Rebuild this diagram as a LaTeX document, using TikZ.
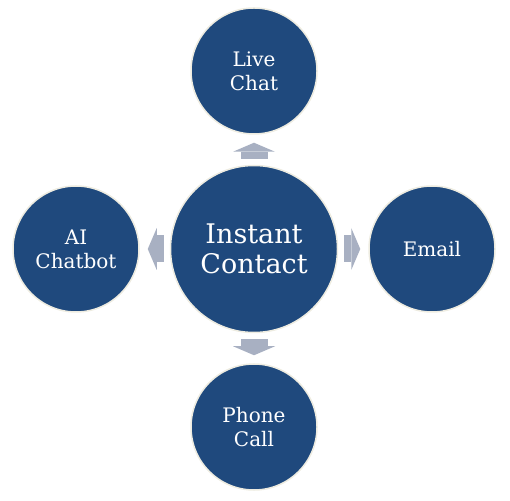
\documentclass[tikz,border=0pt]{standalone}
\usepackage{fontspec}
\usepackage{tikz}
\usetikzlibrary{positioning,arrows.meta}
\newfontfamily\discfont{DejaVu Serif}
\definecolor{disc}{HTML}{1F497D}
\definecolor{rim}{HTML}{EEECE1}
\definecolor{flow}{HTML}{A8B0C2}

\begin{document}
\begin{tikzpicture}[x=1pt,y=1pt,
   disc/.style={circle,fill=disc,draw=rim,line width=1.5pt,
     inner sep=0pt,text=white,align=center},
   channel/.style={disc,minimum size=126pt,font=\discfont\fontsize{20}{24}\selectfont},
   hub/.style={disc,minimum size=167pt,font=\discfont\fontsize{27}{30}\selectfont},
   push/.style={draw=flow,line width=27pt,
     -{Triangle[length=9pt,width=42pt,line width=0pt]},
     shorten <=6pt,shorten >=8pt}]
\useasboundingbox (0,0) rectangle (510,500);
\node[hub] (core) at (254,251) {Instant\\Contact};
\node[channel] (chat) at (254,429) {Live\\Chat};
\node[channel] (bot) at (76,251) {AI\\Chatbot};
\node[channel] (mail) at (432,251) {Email};
\node[channel] (call) at (254,73) {Phone\\Call};
\draw[push] (core) -- (chat);
\draw[push] (core) -- (bot);
\draw[push] (core) -- (mail);
\draw[push] (core) -- (call);
\end{tikzpicture}
\end{document}
